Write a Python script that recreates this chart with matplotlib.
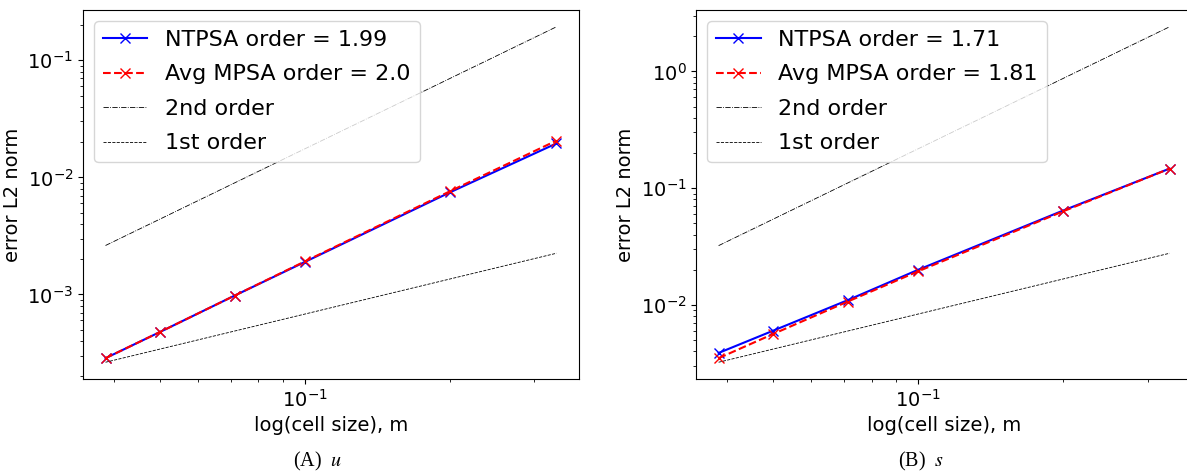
import numpy as np
import matplotlib
matplotlib.use("Agg")
import matplotlib.pyplot as plt

# cell sizes (m)
h = [1/26, 1/20, 1/14, 1/10, 1/5, 1/3]
h_ref = [h[0], h[-1]]

# panel A: u
u_ntpsa = [2.86e-4, 4.8e-4, 9.8e-4, 1.9e-3, 7.44e-3, 1.95e-2]
u_mpsa = [2.86e-4, 4.8e-4, 9.8e-4, 1.92e-3, 7.6e-3, 2.06e-2]
u_ref2 = [2.62e-3, 1.93e-1]
u_ref1 = [2.64e-4, 2.25e-3]
u_orders = ["1.99", "2.0"]

# panel B: s
s_ntpsa = [3.88e-3, 6.03e-3, 1.10e-2, 2.0e-2, 6.42e-2, 1.47e-1]
s_mpsa = [3.5e-3, 5.65e-3, 1.07e-2, 1.94e-2, 6.32e-2, 1.47e-1]
s_ref2 = [3.22e-2, 2.41]
s_ref1 = [3.23e-3, 2.77e-2]
s_orders = ["1.71", "1.81"]

captions = ["(A)", "(B)"]
cap_vars = ["u", "s"]

fig = plt.figure(figsize=(11.87, 4.73), dpi=100)
ax1 = fig.add_axes([0.0699, 0.1987, 0.4179, 0.7801])
ax2 = fig.add_axes([0.5864, 0.1987, 0.4179, 0.7801])

panels = [(ax1, u_ntpsa, u_mpsa, u_ref2, u_ref1, u_orders),
          (ax2, s_ntpsa, s_mpsa, s_ref2, s_ref1, s_orders)]

for ax, nt, mp, r2, r1, orders in panels:
    ax.loglog(h, nt, "bx-", lw=1.5, ms=6.5, label="NTPSA order = " + orders[0])
    ax.loglog(h, mp, "rx--", lw=1.5, ms=6.5, label="Avg MPSA order = " + orders[1])
    ax.loglog(h_ref, r2, "k-.", lw=0.6, label="2nd order")
    ax.loglog(h_ref, r1, "k--", lw=0.6, label="1st order")
    ax.set_xlabel("log(cell size), m", fontsize=14)
    ax.set_ylabel("error L2 norm", fontsize=14)
    ax.tick_params(labelsize=14)
    ax.legend(loc="upper left", fontsize=16, labelspacing=0.65)

cx = [318 / 1187, 921 / 1187]
for i in range(2):
    fig.text(cx[i], 1 - 461 / 473, captions[i] + r"$\ \ \mathit{" + cap_vars[i] + "}$",
             ha="center", va="center", fontsize=14.5, family="Liberation Serif",
             math_fontfamily="stix")

fig.savefig("out.png", dpi=100)
